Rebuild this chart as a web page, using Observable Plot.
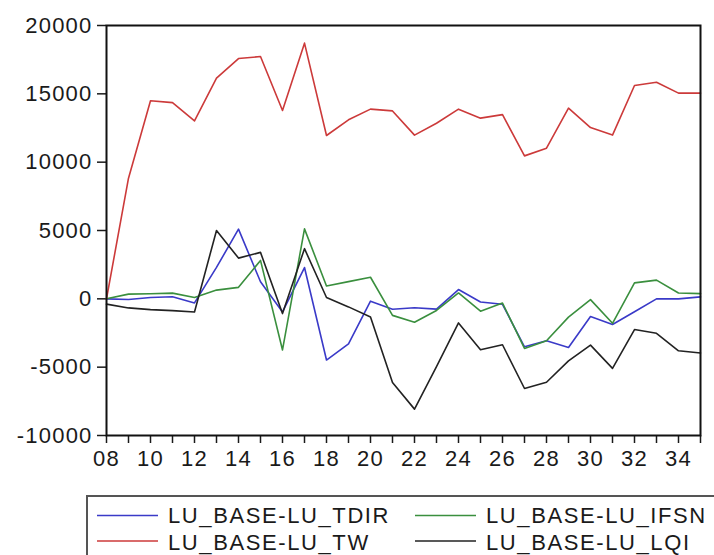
<!DOCTYPE html>
<html>
<head>
<meta charset="utf-8">
<script src="https://cdn.jsdelivr.net/npm/d3@7"></script>
<script src="https://cdn.jsdelivr.net/npm/@observablehq/plot@0.6"></script>
<style>
  html, body { margin: 0; padding: 0; background: #fff; }
  #wrap { position: relative; width: 714px; height: 555px; overflow: hidden; font-family: "Liberation Sans", Arial, sans-serif; }
  #wrap svg text { letter-spacing: 1.2px; }
  #wrap svg#legend text { letter-spacing: 1.6px; }
  #legend { position: absolute; left: 0; top: 480px; }
</style>
</head>
<body>
<div id="wrap"></div>
<script>
const years = d3.range(2008, 2036);
const yTicks = [-10000, -5000, 0, 5000, 10000, 15000, 20000];
const seriesNames = ["LU_BASE-LU_TDIR", "LU_BASE-LU_IFSN", "LU_BASE-LU_TW", "LU_BASE-LU_LQI"];
const seriesColors = ["#3a3ac8", "#3a8f3e", "#cc3a3a", "#222222"];

const tdir = [0, -50, 100, 150, -300, 2300, 5100, 1250, -960, 2290, -4480, -3300, -170, -760,
              -650, -750, 680, -230, -400, -3510, -3070, -3560, -1290, -1880, -950, 0, 0, 140];
const ifsn = [0, 345, 370, 420, 100, 640, 840, 2810, -3740, 5120, 940, 1260, 1580, -1210,
              -1710, -850, 430, -900, -310, -3630, -3070, -1340, -60, -1790, 1170, 1370, 430, 380];
const tw   = [0, 8830, 14490, 14360, 13020, 16150, 17580, 17730, 13780, 18710, 11950, 13100, 13880, 13750,
              11980, 12850, 13880, 13220, 13480, 10460, 11020, 13950, 12530, 11980, 15610, 15850, 15050, 15050];
const lqi  = [-390, -665, -790, -860, -960, 5000, 2980, 3400, -1080, 3670, 100, -590, -1330, -6130,
              -8070, -4960, -1760, -3730, -3360, -6560, -6100, -4540, -3390, -5090, -2250, -2520, -3800, -3960];

const seriesValues = [tdir, ifsn, tw, lqi];
const table = [];
seriesNames.forEach((name, i) => {
  years.forEach((yr, j) => table.push({series: name, year: yr, value: seriesValues[i][j]}));
});

const plot = Plot.plot({
  width: 714,
  height: 480,
  marginLeft: 106,
  marginRight: 14,
  marginTop: 25,
  marginBottom: 45,
  style: {fontFamily: "Liberation Sans, Arial, sans-serif", fontSize: "22px", color: "#1a1a1a", background: "#fff"},
  x: {domain: [2008, 2035]},
  y: {domain: [-10000, 20000]},
  color: {domain: seriesNames, range: seriesColors},
  marks: [
    Plot.axisY({ticks: yTicks, tickSize: 9, tickPadding: 5, tickFormat: d => String(d), stroke: "#1a1a1a", strokeWidth: 1.5, label: null}),
    Plot.axisX({ticks: years, tickSize: 8, tickPadding: 7, tickFormat: d => (d % 2 === 0 ? String(d).slice(2) : ""), stroke: "#1a1a1a", strokeWidth: 1.5, label: null}),
    Plot.line(table, {x: "year", y: "value", z: "series", stroke: "series", strokeWidth: 1.6}),
    Plot.frame({stroke: "#111", strokeWidth: 2})
  ]
});
document.getElementById("wrap").appendChild(plot);

// legend below the chart
const legendOrder = [
  {name: seriesNames[0], color: seriesColors[0], col: 0, row: 0},
  {name: seriesNames[1], color: seriesColors[1], col: 1, row: 0},
  {name: seriesNames[2], color: seriesColors[2], col: 0, row: 1},
  {name: seriesNames[3], color: seriesColors[3], col: 1, row: 1}
];
const leg = d3.select("#wrap").append("svg")
  .attr("id", "legend")
  .attr("width", 714).attr("height", 75);
leg.append("rect")
  .attr("x", 87).attr("y", 16).attr("width", 700).attr("height", 100)
  .attr("fill", "none").attr("stroke", "#555").attr("stroke-width", 2);
const colX = [97, 415];
const rowY = [35.5, 61];
const items = leg.selectAll("g.item").data(legendOrder).join("g").attr("class", "item");
items.append("line")
  .attr("x1", d => colX[d.col]).attr("x2", d => colX[d.col] + 61)
  .attr("y1", d => rowY[d.row]).attr("y2", d => rowY[d.row])
  .attr("stroke", d => d.color).attr("stroke-width", 1.6);
items.append("text")
  .attr("x", d => colX[d.col] + 71)
  .attr("y", d => rowY[d.row] + (d.row === 0 ? 0 : 1.5))
  .attr("dy", "0.35em")
  .attr("fill", "#1a1a1a")
  .style("font-family", "Liberation Sans, Arial, sans-serif")
  .style("font-size", "22px")
  .text(d => d.name);
</script>
</body>
</html>
